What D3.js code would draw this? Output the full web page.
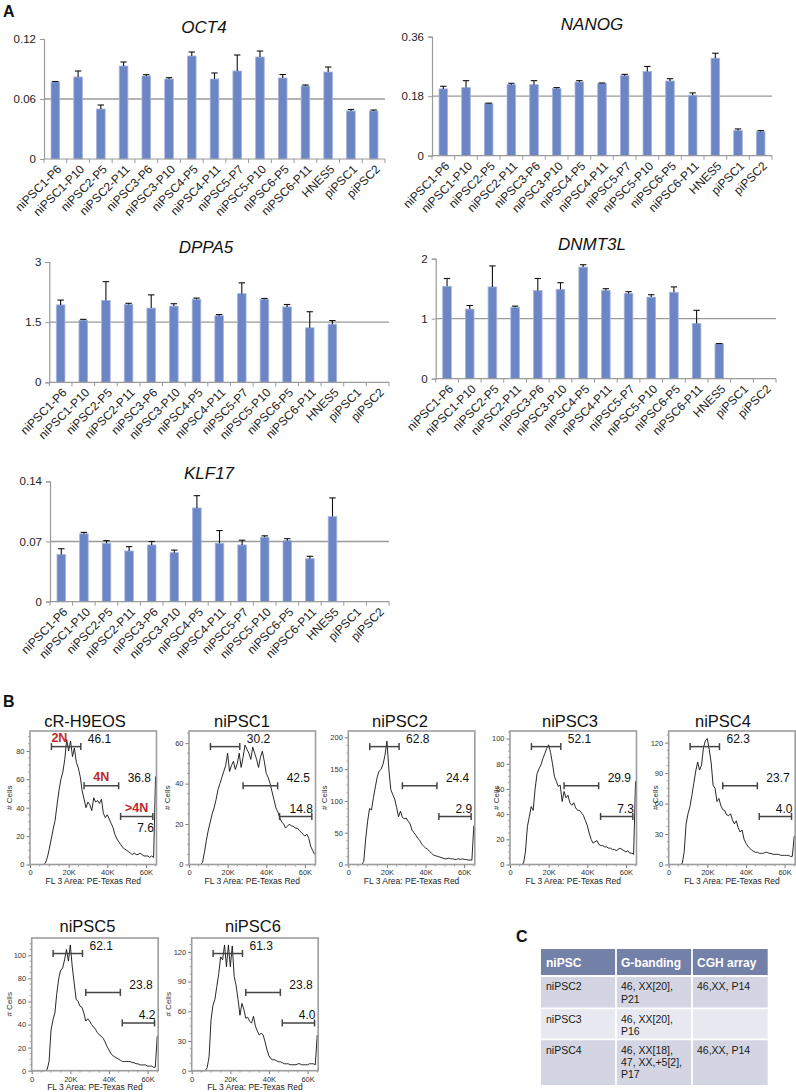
<!DOCTYPE html>
<html><head><meta charset="utf-8">
<script src="https://cdn.jsdelivr.net/npm/d3@7"></script>
<style>
body{margin:0;background:#fff}
svg{display:block}
text{font-family:"Liberation Sans",Arial,Helvetica,sans-serif}
</style>
</head><body>
<svg id="fig" width="796" height="1092"></svg>
<script>
// ---------------- DATA ----------------
const categories = ["niPSC1-P6","niPSC1-P10","niPSC2-P5","niPSC2-P11","niPSC3-P6","niPSC3-P10","niPSC4-P5","niPSC4-P11","niPSC5-P7","niPSC5-P10","niPSC6-P5","niPSC6-P11","HNES5","piPSC1","piPSC2"];

const oct4Values = [0.077,0.082,0.050,0.093,0.083,0.080,0.103,0.080,0.088,0.102,0.081,0.073,0.087,0.048,0.048];
const oct4Errors = [0.0005,0.006,0.004,0.004,0.0013,0.0013,0.004,0.006,0.016,0.006,0.0035,0.001,0.005,0.0015,0.001];
const oct4Ticks = [0,0.06,0.12];

const nanogValues = [0.202,0.206,0.158,0.215,0.215,0.203,0.223,0.219,0.242,0.255,0.226,0.183,0.295,0.076,0.073];
const nanogErrors = [0.008,0.021,0.001,0.004,0.012,0.003,0.004,0.001,0.004,0.015,0.007,0.007,0.015,0.005,0.003];
const nanogTicks = [0,0.18,0.36];

const dppa5Values = [1.93,1.55,2.04,1.94,1.85,1.90,2.07,1.66,2.21,2.07,1.88,1.36,1.45,0,0];
const dppa5Errors = [0.12,0.02,0.47,0.03,0.33,0.06,0.03,0.03,0.27,0.02,0.06,0.40,0.09,0,0];
const dppa5Ticks = [0,1.5,3];

const dnmt3lValues = [1.54,1.16,1.53,1.19,1.47,1.49,1.86,1.47,1.42,1.36,1.44,0.92,0.58,0,0];
const dnmt3lErrors = [0.13,0.06,0.35,0.02,0.20,0.11,0.04,0.03,0.03,0.04,0.09,0.22,0.005,0,0];
const dnmt3lTicks = [0,1,2];

const klf17Values = [0.055,0.079,0.068,0.059,0.066,0.057,0.109,0.068,0.066,0.075,0.071,0.050,0.099,0,0];
const klf17Errors = [0.0066,0.0016,0.003,0.005,0.004,0.003,0.0143,0.0147,0.0055,0.0016,0.0023,0.0028,0.0217,0,0];
const klf17Ticks = [0,0.07,0.14];

// Flow histograms: counts per 1K channel bin of FL 3 Area (0 .. 65K)
const fl3BinWidth = 1000;
const fl3Max = 65500;
const fl3Ticks = [0,20000,40000,60000];
const fl3TickLabels = ["0","20K","40K","60K"];

const h9Counts = [0,0,0,0,0,0,0,0,1,5, 11,18,25,31,42,52,60,65,74,88, 80,87,76,82,72,68,62,52,46,40, 44,42,38,47,44,45,43,46,36,33, 35,32,29,26,21,18,16,14,12,11, 10,9,8,7,8,7,7,8,7,6, 6,6,5,6,5,62];
const nipsc1Counts = [0,0,0,0,0,0,0,1,6,12, 17,21,25,28,32,37,40,43,46,49, 55,46,49,51,47,50,55,48,53,59, 57,55,52,58,55,52,48,53,56,51, 45,43,40,36,32,28,26,23,21,20, 18,19,20,19,19,18,18,17,16,15, 14,15,13,9,7,5];
const nipsc2Counts = [0,0,0,0,0,0,0,0,5,40, 68,88,86,105,122,138,147,150,158,172, 194,150,118,110,103,90,75,84,74,72, 73,68,64,54,50,46,41,38,32,29, 26,24,21,18,15,14,13,12,11,10, 9,9,10,9,9,8,8,9,8,9, 8,8,7,7,7,61];
const nipsc3Counts = [0,0,0,0,0,0,0,1,10,30, 38,46,43,60,72,76,79,84,88,92, 95,89,80,70,66,62,63,50,58,53, 55,49,47,49,45,43,43,41,39,35, 31,25,20,17,18,19,16,15,15,14, 14,13,13,12,12,11,12,13,12,11, 10,11,9,9,8,66];
const nipsc4Counts = [0,0,0,0,0,0,0,1,12,40, 50,57,68,80,92,101,93,98,115,122, 124,113,100,78,75,62,65,58,54,53, 49,48,50,44,40,43,36,32,34,25, 21,18,16,14,13,12,12,11,11,11, 12,12,11,11,10,10,10,10,9,9, 9,9,9,8,8,28];
const nipsc5Counts = [0,0,0,0,0,0,0,0,1,8, 35,44,50,67,80,87,89,96,105,95, 109,90,76,62,60,56,55,50,43,45, 43,40,38,36,33,31,30,28,25,21, 18,15,13,12,11,10,9,8,8,8, 8,8,7,7,6,6,5,5,5,5, 4,4,4,3,3,30];
const nipsc6Counts = [0,0,0,0,0,0,0,0,3,14, 51,66,72,85,98,115,112,127,105,127, 105,126,95,86,72,56,68,62,53,54, 50,48,55,45,40,36,38,36,29,21, 15,12,11,11,10,9,9,8,7,7, 7,6,6,6,6,7,7,6,6,6, 6,7,7,7,6,36];

const histTitles = ["cR-H9EOS","niPSC1","niPSC2","niPSC3","niPSC4","niPSC5","niPSC6"];
const histYMax = [94,66,210,106,131.5,115,134];
const histYTicks = [[0,20,40,60,80],[0,20,40,60],[0,50,100,150,200],[0,20,40,60,80,100],[0,30,60,90,120],[0,20,40,60,80,100],[0,30,60,90,120]];
const gateRanges = [[11100,26300],[28000,45900],[46900,63600]];
const gatePercents = [["46.1","36.8","7.6"],["30.2","42.5","14.8"],["62.8","24.4","2.9"],["52.1","29.9","7.3"],["62.3","23.7","4.0"],["62.1","23.8","4.2"],["61.3","23.8","4.0"]];
const ploidyLabels = ["2N","4N",">4N"];

const tableHeader = ["niPSC","G-banding","CGH array"];
const tableRows = [
  [["niPSC2"],["46, XX[20],","P21"],["46,XX, P14"]],
  [["niPSC3"],["46, XX[20],","P16"],[]],
  [["niPSC4"],["46, XX[18],","47, XX,+5[2],","P17"],["46,XX, P14"]]
];

// ---------------- LAYOUT ----------------
const svg = d3.select("#fig");
const BAR_FILL = "#6b85c5", BAR_STROKE = "#a6b6df", AXIS_GRAY = "#9a9a9a";

[["A",3,17],["B",3,707],["C",516,942]].forEach(([t,x,y]) => {
  svg.append("text").attr("x",x).attr("y",y).attr("font-size",16).attr("font-weight","bold").attr("fill","#111").text(t);
});

const barSeries = [
  {title:"OCT4", values:oct4Values, errors:oct4Errors, ticks:oct4Ticks},
  {title:"NANOG", values:nanogValues, errors:nanogErrors, ticks:nanogTicks},
  {title:"DPPA5", values:dppa5Values, errors:dppa5Errors, ticks:dppa5Ticks},
  {title:"DNMT3L", values:dnmt3lValues, errors:dnmt3lErrors, ticks:dnmt3lTicks},
  {title:"KLF17", values:klf17Values, errors:klf17Errors, ticks:klf17Ticks}
];
const barLayouts = [
  {left:44, right:385, top:39, bottom:159, titleX:204, titleY:33},
  {left:432, right:772, top:36.7, bottom:155.7, titleX:592, titleY:30},
  {left:49.3, right:389, top:262, bottom:382.3, titleX:206, titleY:253},
  {left:435.7, right:776, top:258.7, bottom:378.7, titleX:592, titleY:249.5},
  {left:50, right:389, top:481.3, bottom:601.7, titleX:209, titleY:479}
];

function drawBarChart(s, L){
  const g = svg.append("g");
  const x = d3.scaleBand().domain(categories).range([L.left,L.right]).paddingInner(0.62).paddingOuter(0.31);
  const y = d3.scaleLinear().domain([0, s.ticks[s.ticks.length-1]]).range([L.bottom,L.top]);
  const xb = d3.scaleLinear().domain([0,categories.length]).range([L.left,L.right]);

  g.append("text").attr("x",L.titleX).attr("y",L.titleY).attr("text-anchor","middle")
    .attr("font-size",17).attr("font-style","italic").attr("fill","#111").text(s.title);

  // middle gridline
  const mid = s.ticks[1];
  g.append("line").attr("x1",L.left).attr("x2",L.right).attr("y1",y(mid)).attr("y2",y(mid))
    .attr("stroke",AXIS_GRAY).attr("stroke-width",1.3);

  // y axis
  const ya = g.append("g").attr("transform",`translate(${L.left},0)`)
    .call(d3.axisLeft(y).tickValues(s.ticks).tickSize(4).tickPadding(4).tickFormat(d=>String(d)));
  ya.select(".domain").attr("stroke",AXIS_GRAY).attr("stroke-width",1.2);
  ya.selectAll(".tick line").attr("stroke",AXIS_GRAY);
  ya.selectAll(".tick text").attr("font-size",11.5).attr("fill","#222").attr("font-family",null);

  // bars
  g.selectAll("rect.bar").data(categories.map((c,i)=>({c,v:s.values[i],e:s.errors[i]})).filter(d=>d.v>0))
    .join("rect").attr("class","bar")
    .attr("x",d=>x(d.c)).attr("width",x.bandwidth())
    .attr("y",d=>y(d.v)).attr("height",d=>y(0)-y(d.v))
    .attr("fill",BAR_FILL).attr("stroke",BAR_STROKE).attr("stroke-width",0.8);

  // error bars (upper)
  const eb = g.selectAll("g.err").data(categories.map((c,i)=>({c,v:s.values[i],e:s.errors[i]})).filter(d=>d.v>0))
    .join("g").attr("class","err");
  eb.append("line").attr("x1",d=>x(d.c)+x.bandwidth()/2).attr("x2",d=>x(d.c)+x.bandwidth()/2)
    .attr("y1",d=>y(d.v)).attr("y2",d=>y(d.v+d.e)).attr("stroke","#111").attr("stroke-width",1.1);
  eb.append("line").attr("x1",d=>x(d.c)+x.bandwidth()/2-3.2).attr("x2",d=>x(d.c)+x.bandwidth()/2+3.2)
    .attr("y1",d=>y(d.v+d.e)).attr("y2",d=>y(d.v+d.e)).attr("stroke","#111").attr("stroke-width",1.1);

  // x axis
  g.append("line").attr("x1",L.left).attr("x2",L.right).attr("y1",L.bottom).attr("y2",L.bottom)
    .attr("stroke",AXIS_GRAY).attr("stroke-width",1.2);
  g.selectAll("line.xt").data(d3.range(categories.length+1)).join("line").attr("class","xt")
    .attr("x1",d=>xb(d)).attr("x2",d=>xb(d)).attr("y1",L.bottom).attr("y2",L.bottom+4)
    .attr("stroke",AXIS_GRAY);
  g.selectAll("text.xl").data(categories).join("text").attr("class","xl")
    .attr("transform",d=>`translate(${x(d)+x.bandwidth()/2+4},${L.bottom+8}) rotate(-45)`)
    .attr("text-anchor","end").attr("dy","0.35em").attr("font-size",12).attr("fill","#222").text(d=>d);
}
barSeries.forEach((s,i)=>drawBarChart(s, barLayouts[i]));

// ---------------- HISTOGRAMS ----------------
const histCounts = [h9Counts,nipsc1Counts,nipsc2Counts,nipsc3Counts,nipsc4Counts,nipsc5Counts,nipsc6Counts];
const histLayouts = [
  {left:30, top:731, bottom:864.5, titleX:85, titleY:726.5, yLab:-18},
  {left:189, top:731, bottom:864.5, titleX:242, titleY:726.5, yLab:-19},
  {left:348.3, top:731, bottom:864.5, titleX:400, titleY:726.5, yLab:-21},
  {left:510, top:731, bottom:864.5, titleX:570, titleY:726.5, yLab:-11},
  {left:668.7, top:731, bottom:864.5, titleX:723, titleY:726.5, yLab:-11},
  {left:31.7, top:938, bottom:1070.7, titleX:87.5, titleY:931.5, yLab:-20},
  {left:191.7, top:938, bottom:1070.7, titleX:253, titleY:931.5, yLab:-21}
];
const HIST_W = 126.5;
const gateLevels = [0.117,0.41,0.64];

function drawHist(idx){
  const L = histLayouts[idx], counts = histCounts[idx];
  const g = svg.append("g");
  const x = d3.scaleLinear().domain([0,fl3Max]).range([L.left, L.left+HIST_W]);
  const y = d3.scaleLinear().domain([0,histYMax[idx]]).range([L.bottom, L.top]);
  const H = L.bottom - L.top;

  g.append("text").attr("x",L.titleX).attr("y",L.titleY).attr("text-anchor","middle")
    .attr("font-size",16.5).attr("fill","#111").text(histTitles[idx]);

  // y axis ticks
  const ticks = histYTicks[idx];
  const step = ticks[1]-ticks[0];
  const minor = d3.range(0, histYMax[idx], step/4).filter(v=>!ticks.includes(v));
  g.selectAll("line.ymin").data(minor).join("line").attr("class","ymin")
    .attr("x1",L.left-2).attr("x2",L.left).attr("y1",d=>y(d)).attr("y2",d=>y(d)).attr("stroke","#666").attr("stroke-width",0.6);
  const ya = g.append("g").attr("transform",`translate(${L.left},0)`)
    .call(d3.axisLeft(y).tickValues(ticks).tickSize(3.5).tickPadding(2).tickFormat(d3.format("d")));
  ya.select(".domain").remove();
  ya.selectAll(".tick line").attr("stroke","#555").attr("stroke-width",0.8);
  ya.selectAll(".tick text").attr("font-size",7.5).attr("fill","#333").attr("font-family",null);

  // x axis ticks
  const xminor = d3.range(0, fl3Max, 5000).filter(v=>!fl3Ticks.includes(v));
  g.selectAll("line.xmin").data(xminor).join("line").attr("class","xmin")
    .attr("x1",d=>x(d)).attr("x2",d=>x(d)).attr("y1",L.bottom).attr("y2",L.bottom+2).attr("stroke","#666").attr("stroke-width",0.6);
  const xa = g.append("g").attr("transform",`translate(0,${L.bottom})`)
    .call(d3.axisBottom(x).tickValues(fl3Ticks).tickSize(3.5).tickPadding(2).tickFormat((d,i)=>fl3TickLabels[i]));
  xa.select(".domain").remove();
  xa.selectAll(".tick line").attr("stroke","#555").attr("stroke-width",0.8);
  xa.selectAll(".tick text").attr("font-size",7.5).attr("fill","#333").attr("font-family",null);

  g.append("text").attr("x",L.left+HIST_W/2).attr("y",L.bottom+19).attr("text-anchor","middle")
    .attr("font-size",8.5).attr("fill","#222").text("FL 3 Area: PE-Texas Red");
  g.append("text").attr("transform",`translate(${L.left+L.yLab},${(L.top+L.bottom)/2}) rotate(-90)`)
    .attr("text-anchor","middle").attr("font-size",8).attr("fill","#333").text("# Cells");

  // histogram line
  const line = d3.line().x((d,i)=>x(i*fl3BinWidth)).y(d=>y(d));
  g.append("path").attr("d",line(counts)).attr("fill","none").attr("stroke","#111").attr("stroke-width",0.9);

  // box
  g.append("rect").attr("x",L.left).attr("y",L.top).attr("width",HIST_W).attr("height",H)
    .attr("fill","none").attr("stroke","#9d9d9d").attr("stroke-width",1.6);

  // gates
  gateRanges.forEach((r,gi)=>{
    const gy = L.top + gateLevels[gi]*H;
    g.append("line").attr("x1",x(r[0])).attr("x2",x(r[1])).attr("y1",gy).attr("y2",gy).attr("stroke","#444").attr("stroke-width",1.5);
    [r[0],r[1]].forEach(v=>g.append("line").attr("x1",x(v)).attr("x2",x(v)).attr("y1",gy-3.5).attr("y2",gy+3.5).attr("stroke","#444").attr("stroke-width",1.5));
    const pct = gatePercents[idx][gi];
    const t = g.append("text").attr("font-size",12).attr("fill","#111").text(pct);
    if (gi===0) t.attr("x",x(r[1])+7).attr("y",gy-3.5);
    else if (gi===1) t.attr("x",x(r[1])+9).attr("y",gy-3.5);
    else {
      t.attr("x",x(r[1])+1).attr("text-anchor","end").attr("y", idx===0 ? gy+16 : gy-3.5);
    }
    if (idx===0){
      const rl = g.append("text").attr("font-size",12.5).attr("font-weight","bold").attr("fill","#c1272d").text(ploidyLabels[gi]);
      if (gi===0) rl.attr("x",x(r[0])).attr("y",gy-5);
      else rl.attr("x",(x(r[0])+x(r[1]))/2).attr("text-anchor","middle").attr("y",gy-4.5);
    }
  });
}
histCounts.forEach((c,i)=>drawHist(i));

// ---------------- TABLE ----------------
const tL = {left:541, colX:[541,616,692,767.7], headTop:949, rowBounds:[976,1008.3,1039.3,1085]};
const rowFills = ["#d3d5e2","#e8e9f0","#d3d5e2"];
const tg = svg.append("g");
tg.append("rect").attr("x",tL.colX[0]).attr("y",tL.headTop).attr("width",tL.colX[3]-tL.colX[0]).attr("height",tL.rowBounds[0]-tL.headTop).attr("fill","#7380a7");
tableRows.forEach((row,ri)=>{
  const y0 = tL.rowBounds[ri], y1 = tL.rowBounds[ri+1];
  tg.append("rect").attr("x",tL.colX[0]).attr("y",y0).attr("width",tL.colX[3]-tL.colX[0]).attr("height",y1-y0).attr("fill",rowFills[ri]);
  row.forEach((cell,ci)=>{
    cell.forEach((ln,li)=>{
      tg.append("text").attr("x",tL.colX[ci]+5).attr("y",y0+14.3+li*12.2).attr("font-size",10.5).attr("fill","#1a1a1a").text(ln);
    });
  });
});
tableHeader.forEach((h,ci)=>{
  tg.append("text").attr("x",tL.colX[ci]+5).attr("y",966.5).attr("font-size",12).attr("font-weight","bold").attr("fill","#fff").text(h);
});
// white separators
tL.colX.slice(1,3).forEach(cx=>tg.append("line").attr("x1",cx).attr("x2",cx).attr("y1",tL.headTop).attr("y2",tL.rowBounds[3]).attr("stroke","#fff").attr("stroke-width",1.8));
tL.rowBounds.slice(0,3).forEach(ry=>tg.append("line").attr("x1",tL.colX[0]).attr("x2",tL.colX[3]).attr("y1",ry).attr("y2",ry).attr("stroke","#fff").attr("stroke-width",1.8));
</script>
</body></html>
